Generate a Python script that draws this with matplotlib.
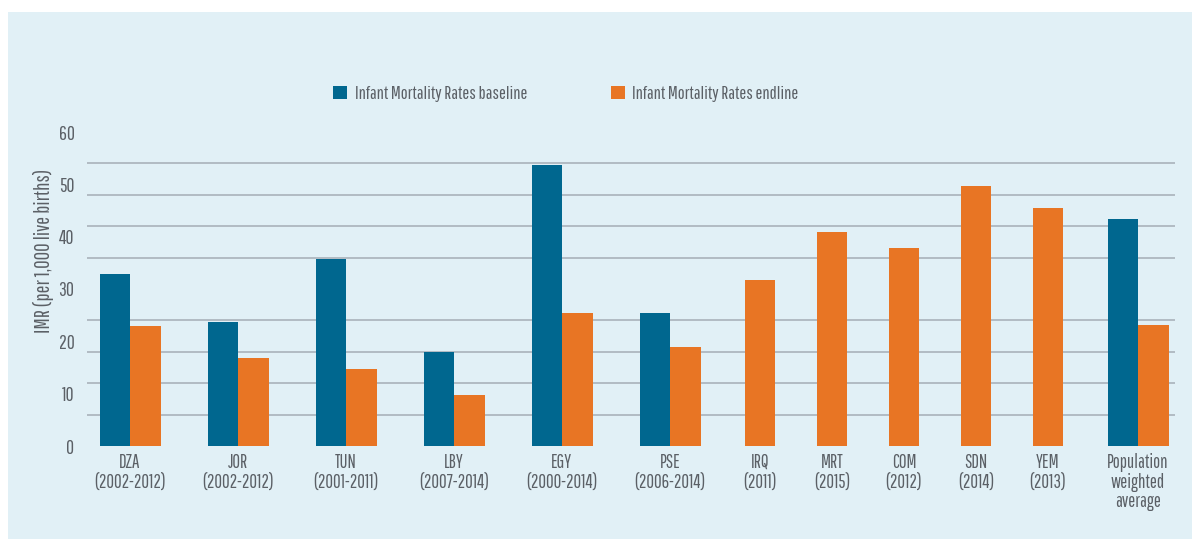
import numpy as np
import matplotlib.pyplot as plt
from matplotlib.patches import Rectangle, Patch

# data (IMR per 1,000 live births)
countries = ['DZA\n(2002-2012)', 'JOR\n(2002-2012)', 'TUN\n(2001-2011)', 'LBY\n(2007-2014)',
             'EGY\n(2000-2014)', 'PSE\n(2006-2014)', 'IRQ\n(2011)', 'MRT\n(2015)',
             'COM\n(2012)', 'SDN\n(2014)', 'YEM\n(2013)', 'Population\nweighted\naverage']
baseline = [32.8, 23.6, 35.8, 17.9, 53.7, 25.5, None, None, None, None, None, 43.4]
endline = [23.0, 16.9, 14.8, 9.7, 25.5, 18.9, 31.7, 40.9, 37.8, 49.6, 45.4, 23.1]

blue = '#00678f'
orange = '#e87524'
bg = '#e1f0f6'
grid_col = '#aeb7bf'
txt = '#5b6066'

plt.rcParams['font.family'] = ['Pathway Gothic One', 'Sofia Sans Condensed', 'Roboto Condensed', 'DejaVu Sans']

fig = plt.figure(figsize=(11.92, 5.41), dpi=100)
fig.patch.set_facecolor('white')
# light blue panel behind everything
panel = Rectangle((8 / 1192, 2 / 541), 1 - 8 / 1192, 1 - 14 / 541,
                  transform=fig.transFigure, facecolor=bg, edgecolor='none', zorder=-10)
fig.patches.append(panel)

ax = fig.add_axes([87 / 1192, 1 - 446 / 541, 1088 / 1192, 314 / 541], zorder=1)
ax.set_facecolor('none')

# group centres: pairs take more room than single bars
w = 30.5
half = [54 if b is not None else 36 for b in baseline]
centers = []
pos = 130
for i in range(len(countries)):
    if i > 0:
        pos += half[i - 1] + half[i]
    centers.append(pos)

for c, b, e in zip(centers, baseline, endline):
    if b is not None:
        ax.bar(c - w / 2, b, width=w, color=blue, zorder=3)
        ax.bar(c + w / 2, e, width=w, color=orange, zorder=3)
    else:
        ax.bar(c, e, width=w, color=orange, zorder=3)

ax.set_xlim(87, 1175)
ax.set_ylim(0, 60)
ax.set_yticks(np.arange(0, 61, 10))
ax.set_yticks(np.arange(0, 61, 6), minor=True)
ax.grid(which='minor', axis='y', color=grid_col, linewidth=1.3, zorder=1)
ax.grid(which='major', axis='y', visible=False)
ax.set_axisbelow(True)
ax.set_xticks(centers)
ax.set_xticklabels(countries, linespacing=1.05)
ax.tick_params(axis='both', which='both', length=0, colors=txt)
ax.tick_params(axis='x', pad=5, labelsize=13.5)
ax.tick_params(axis='y', pad=9, labelsize=14)
for s in ax.spines.values():
    s.set_visible(False)

fig.text(43 / 1192, 1 - 251 / 541, 'IMR (per 1,000 live births)', rotation=90,
         ha='center', va='center', color=txt, fontsize=15)

handles = [Patch(facecolor=blue, label='Infant Mortality Rates baseline'),
           Patch(facecolor=orange, label='Infant Mortality Rates endline')]
leg = fig.legend(handles=handles, loc='center', bbox_to_anchor=(566 / 1192, 1 - 94 / 541),
                 ncol=2, frameon=False, fontsize=13.2, handlelength=0.75, handleheight=0.75,
                 handletextpad=0.4, columnspacing=4.6)
for t in leg.get_texts():
    t.set_color(txt)

fig.savefig('out.png', dpi=100)
